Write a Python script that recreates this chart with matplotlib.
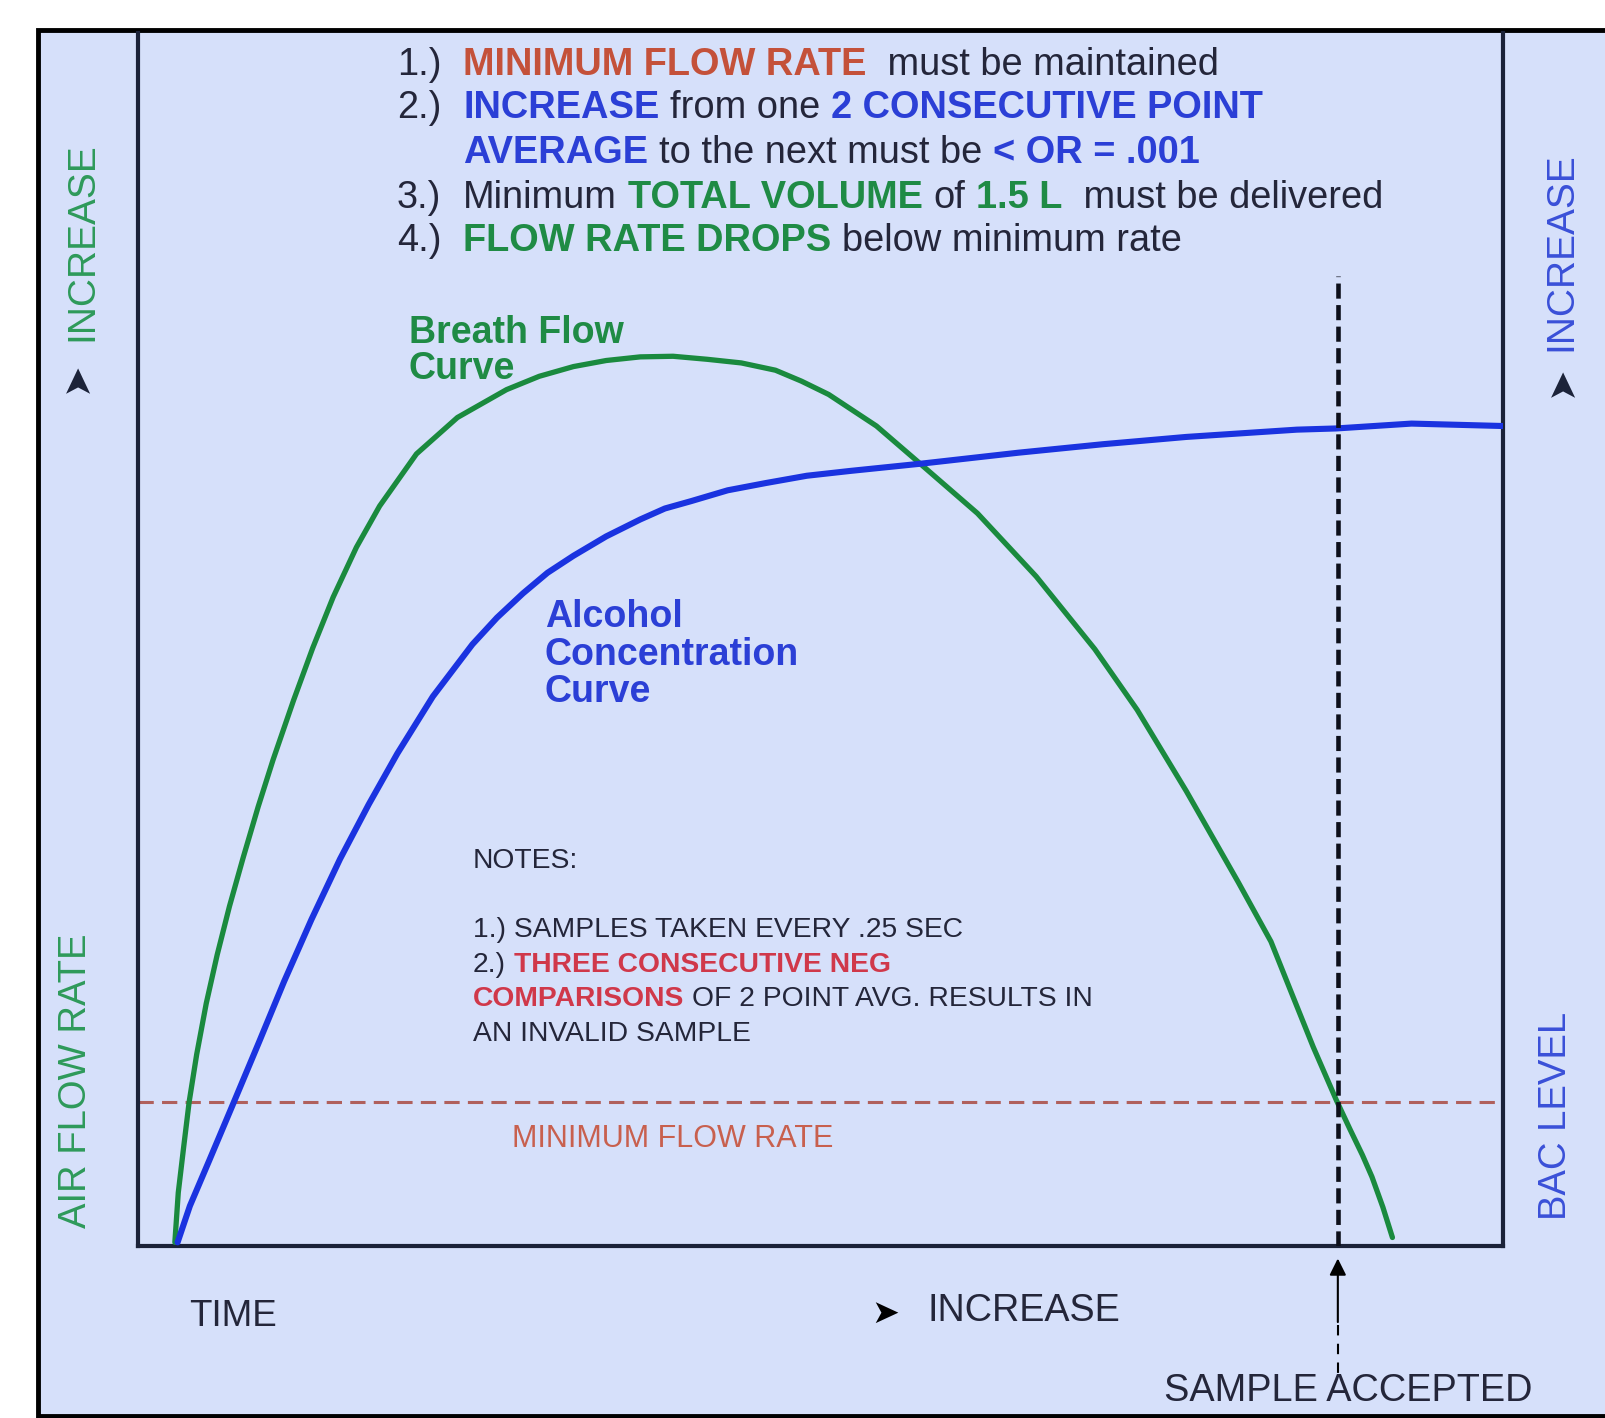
import matplotlib
matplotlib.use("Agg")
import matplotlib.pyplot as plt
from matplotlib.patches import Rectangle

plt.rcParams['font.family'] = ['Liberation Sans', 'DejaVu Sans']

W, H = 1605, 1418

# curves (time 0-100, level 0-100)
flow_x = [2.7, 2.95, 3.35, 3.75, 4.3, 5.0, 5.8, 6.7, 7.7, 8.8, 9.9, 11.4, 12.8, 14.3, 16.0,
          17.7, 20.4, 23.4, 27.0, 29.4, 31.9, 34.3, 36.8, 39.2, 41.7, 44.2, 46.7, 48.6, 50.6,
          54.1, 57.4, 61.5, 65.8, 70.1, 73.2, 76.8, 80.6, 83.0, 84.6, 86.1, 87.8, 88.8,
          89.7, 90.4, 91.2, 91.9]
flow_y = [0.3, 4.4, 8.2, 11.9, 15.8, 20.0, 24.0, 28.0, 32.0, 36.2, 40.1, 45.0, 49.3, 53.5, 57.6,
          61.0, 65.3, 68.3, 70.6, 71.7, 72.5, 73.0, 73.3, 73.35, 73.1, 72.8, 72.2, 71.3, 70.2,
          67.6, 64.4, 60.4, 55.2, 49.2, 44.2, 37.5, 30.0, 25.1, 20.6, 16.4, 12.0, 9.6,
          7.5, 5.7, 3.2, 0.7]

bac_x = [2.9, 3.8, 5.2, 7.0, 8.9, 10.7, 12.7, 14.8, 16.9, 19.0, 21.6, 24.5, 26.3, 28.2, 30.0,
         31.9, 34.3, 36.8, 38.6, 40.5, 43.2, 46.0, 49.0, 52.2, 57.4, 64.5, 70.7, 76.8, 84.9,
         87.8, 93.3, 100.0]
bac_y = [0.3, 3.3, 7.0, 11.8, 16.9, 21.8, 26.9, 31.9, 36.4, 40.6, 45.3, 49.6, 51.8, 53.8, 55.5,
         56.9, 58.5, 59.9, 60.8, 61.4, 62.3, 62.9, 63.5, 63.9, 64.5, 65.4, 66.1, 66.7, 67.3,
         67.4, 67.8, 67.6]

min_flow = 11.9
accept_x = 87.9
accept_top = 80.0

DARK = '#24263a'
RED = '#c4513a'
BLUE = '#2b3fd6'
GREEN = '#1f8b45'
PINK = '#d0384a'

rules = [
    (65,  "1.)", [("MINIMUM FLOW RATE", RED, 'bold'), (" must be maintained", DARK, 'normal')]),
    (108, "2.)", [("INCREASE", BLUE, 'bold'), ("from one", DARK, 'normal'),
                  ("2 CONSECUTIVE POINT", BLUE, 'bold')]),
    (153, "",    [("AVERAGE", BLUE, 'bold'), ("to the next must be", DARK, 'normal'),
                  ("< OR = .001", BLUE, 'bold')]),
    (198, "3.)", [("Minimum", DARK, 'normal'), ("TOTAL VOLUME", GREEN, 'bold'), ("of", DARK, 'normal'),
                  ("1.5 L", GREEN, 'bold'), (" must be delivered", DARK, 'normal')]),
    (241, "4.)", [("FLOW RATE DROPS", GREEN, 'bold'), ("below minimum rate", DARK, 'normal')]),
]

notes = [
    (930,  [("1.) SAMPLES TAKEN EVERY .25 SEC", DARK, 'normal')]),
    (965,  [("2.)", DARK, 'normal'), ("THREE CONSECUTIVE NEG", PINK, 'bold')]),
    (999,  [("COMPARISONS", PINK, 'bold'), ("OF 2 POINT AVG. RESULTS IN", DARK, 'normal')]),
    (1034, [("AN INVALID SAMPLE", DARK, 'normal')]),
]


def fx(x):
    return x / W


def fy(y):
    return 1 - y / H


def runs(fig, x, y, parts, size):
    r = fig.canvas.get_renderer()
    gap = 0.28 * size * 100 / 72
    for s, c, w in parts:
        t = fig.text(fx(x), fy(y), s, color=c, fontweight=w, fontsize=size, va='center')
        x = t.get_window_extent(r).x1 + gap


fig = plt.figure(figsize=(W / 100, H / 100), dpi=100)
fig.patch.set_facecolor('white')
fig.patches.append(Rectangle((fx(38), fy(1416)), fx(W + 20 - 38), (1416 - 30) / H,
                             transform=fig.transFigure, facecolor='#d6e0fa',
                             edgecolor='black', linewidth=3.5, zorder=-1))

ax = fig.add_axes([fx(138), fy(1246), fx(1503 - 138), (1246 - 33) / H])
ax.set_zorder(2)
ax.set_facecolor('none')
ax.set_xlim(0, 100)
ax.set_ylim(0, 100)
ax.set_xticks([])
ax.set_yticks([])
ax.spines['top'].set_visible(False)
for s in ['left', 'right', 'bottom']:
    ax.spines[s].set_color('#1b2238')
    ax.spines[s].set_linewidth(3)

ax.plot(flow_x, flow_y, color='#1a8a3e', lw=3.8, solid_capstyle='round',
        solid_joinstyle='round', zorder=3)
ax.plot(bac_x, bac_y, color='#1a33e0', lw=4.4, solid_capstyle='round',
        solid_joinstyle='round', zorder=3)
ax.axhline(min_flow, color='#b0605c', lw=2.2, dashes=(5, 2.7), zorder=2)
ax.plot([accept_x, accept_x], [0, accept_top], color='#0d0f1a', lw=3.3, dashes=(3.3, 1.4),
        zorder=4)

# sample accepted arrow below the axis
ax.plot([accept_x, accept_x], [-6.5, -10.5], color='black', lw=1.5, dashes=(5, 4), clip_on=False)
ax.annotate('', xy=(accept_x, -0.8), xytext=(accept_x, -6.5), xycoords='data',
            arrowprops=dict(arrowstyle='-|>', color='black', lw=1.5, mutation_scale=25),
            annotation_clip=False)

fig.canvas.draw()

for y, num, parts in rules:
    if num:
        fig.text(fx(397), fy(y), num, color=DARK, fontsize=27.4, va='center')
    runs(fig, 463, y, parts, 27.4)

fig.text(fx(409), fy(333), "Breath Flow", color=GREEN, fontsize=27, fontweight='bold', va='center')
fig.text(fx(409), fy(369), "Curve", color=GREEN, fontsize=27, fontweight='bold', va='center')
for y, s in zip([617, 655, 692], ["Alcohol", "Concentration", "Curve"]):
    fig.text(fx(545), fy(y), s, color=BLUE, fontsize=27, fontweight='bold', va='center')

fig.text(fx(473), fy(861), "NOTES:", color=DARK, fontsize=20.3, va='center')
for y, parts in notes:
    runs(fig, 473, y, parts, 20.3)

fig.text(fx(512), fy(1139), "MINIMUM FLOW RATE", color='#c8604e', fontsize=22, va='center')

fig.text(fx(189), fy(1316), "TIME", color=DARK, fontsize=26.5, va='center')
fig.text(fx(885), fy(1313), "\u27a4", color='black', fontsize=24, va='center', ha='center',
         family='DejaVu Sans')
fig.text(fx(927), fy(1311), "INCREASE", color=DARK, fontsize=27.2, va='center')
fig.text(fx(1164), fy(1391), "SAMPLE ACCEPTED", color=DARK, fontsize=27.3, va='center')

# side labels
fig.text(fx(76), fy(1081), "AIR FLOW RATE", color='#2e9a5a', fontsize=27.5, rotation=90,
         ha='center', va='center')
fig.text(fx(82), fy(242), "INCREASE", color='#2e9a5a', fontsize=28, rotation=90,
         ha='center', va='center')
fig.text(fx(78), fy(377), "\u27a4", color='#1b2238', fontsize=27, rotation=90,
         ha='center', va='center', family='DejaVu Sans')
fig.text(fx(1561), fy(252), "INCREASE", color='#3a50d8', fontsize=28, rotation=90,
         ha='center', va='center')
fig.text(fx(1563), fy(381), "\u27a4", color='#1b2238', fontsize=27, rotation=90,
         ha='center', va='center', family='DejaVu Sans')
fig.text(fx(1556), fy(1116), "BAC LEVEL", color='#3a50d8', fontsize=27.5, rotation=90,
         ha='center', va='center')

fig.savefig('out.png', dpi=100)
